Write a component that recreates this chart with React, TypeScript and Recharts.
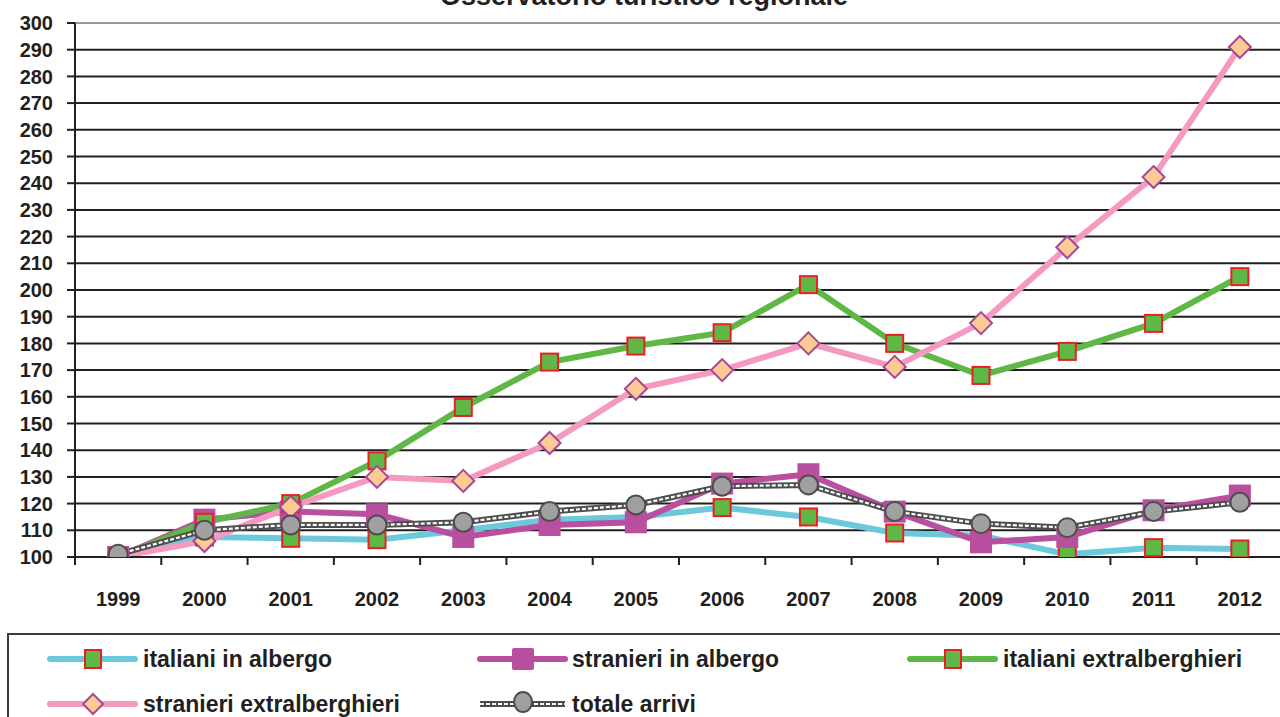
import React from 'react';
import { LineChart, Line, XAxis, YAxis, CartesianGrid, ReferenceLine } from 'recharts';

const years = ['1999', '2000', '2001', '2002', '2003', '2004', '2005', '2006', '2007', '2008', '2009', '2010', '2011', '2012'];
const italianiAlbergo = [100, 107.5, 107, 106.5, 110, 114, 115, 118.5, 115, 109, 108, 101, 103.5, 103];
const stranieriAlbergo = [100, 114, 117, 116, 107.5, 112, 113, 127.5, 131, 117, 105.5, 107.5, 117.5, 123];
const italianiExtra = [100, 113, 120, 136, 156, 173, 179, 184, 202, 180, 168, 177, 187.5, 205];
const stranieriExtra = [100, 106, 118.7, 130, 128.5, 142.7, 163, 170, 180, 171.2, 187.6, 216, 242.3, 291];
const totaleArrivi = [101, 110, 112, 112, 113, 117, 119.5, 126.5, 127, 117, 112.5, 111, 117, 120.5];
const yTicks = [100, 110, 120, 130, 140, 150, 160, 170, 180, 190, 200, 210, 220, 230, 240, 250, 260, 270, 280, 290, 300];
const seriesNames = ['italiani in albergo', 'stranieri in albergo', 'italiani extralberghieri', 'stranieri extralberghieri', 'totale arrivi'];
const title = 'Osservatorio turistico regionale';

const data = years.map((y, i) => ({
  year: y,
  ia: italianiAlbergo[i],
  sa: stranieriAlbergo[i],
  ie: italianiExtra[i],
  se: stranieriExtra[i],
  ta: totaleArrivi[i],
}));

const FONT = '"Liberation Sans", Arial, sans-serif';
const TEXT = '#231f20';
const CYAN = '#6cc9dc';
const MAGENTA = '#b84f9f';
const GREEN = '#5fb846';
const PINK = '#f49ac1';
const PEACH = '#fdca94';
const RED = '#ee1c25';
const DARK = '#4d4d4d';
const GRAY = '#a0a0a0';

const GreenSquare = (props: any) => {
  const { cx, cy, index } = props;
  if (cx == null || cy == null) return <g key={index} />;
  return <rect key={index} x={cx - 8.5} y={cy - 8.5} width={17} height={17} fill={GREEN} stroke={RED} strokeWidth={2} />;
};
const MagentaSquare = (props: any) => {
  const { cx, cy, index } = props;
  if (cx == null || cy == null) return <g key={index} />;
  return <rect key={index} x={cx - 11} y={cy - 11} width={22} height={22} fill={MAGENTA} />;
};
const Diamond = (props: any) => {
  const { cx, cy, index } = props;
  if (cx == null || cy == null) return <g key={index} />;
  const r = 11;
  return (
    <path key={index} d={`M${cx},${cy - r} L${cx + r},${cy} L${cx},${cy + r} L${cx - r},${cy} Z`} fill={PEACH} stroke="#a5479a" strokeWidth={2} />
  );
};
const Circle = (props: any) => {
  const { cx, cy, index } = props;
  if (cx == null || cy == null) return <g key={index} />;
  return <circle key={index} cx={cx} cy={cy} r={9.5} fill={GRAY} stroke={DARK} strokeWidth={2} />;
};

const XTick = (props: any) => {
  const { x, y, payload } = props;
  const half = payload && payload.offset ? payload.offset : 0;
  return (
    <g>
      <line x1={x - half} x2={x - half} y1={y} y2={y + 8} stroke={TEXT} strokeWidth={2} />
      <text x={x} y={y + 49} textAnchor="middle" fontFamily={FONT} fontWeight="bold" fontSize={20} fill={TEXT}>
        {payload.value}
      </text>
    </g>
  );
};

const LegendIcon = ({ kind, x, y }: { kind: number; x: number; y: number }) => {
  const x1 = x;
  const x2 = x + 85;
  const mx = x + 43;
  if (kind === 0 || kind === 2) {
    return (
      <g>
        <line x1={x1} x2={x2} y1={y} y2={y} stroke={kind === 0 ? CYAN : GREEN} strokeWidth={6} strokeLinecap="round" />
        <rect x={mx - 8} y={y - 9} width={16} height={18} fill={GREEN} stroke={RED} strokeWidth={2} />
      </g>
    );
  }
  if (kind === 1) {
    return (
      <g>
        <line x1={x1} x2={x2} y1={y} y2={y} stroke={MAGENTA} strokeWidth={6} strokeLinecap="round" />
        <rect x={mx - 11} y={y - 11} width={22} height={22} fill={MAGENTA} rx={2} />
      </g>
    );
  }
  if (kind === 3) {
    const r = 10;
    return (
      <g>
        <line x1={x1} x2={x2} y1={y} y2={y} stroke={PINK} strokeWidth={6} strokeLinecap="round" />
        <path d={`M${mx},${y - r} L${mx + r},${y} L${mx},${y + r} L${mx - r},${y} Z`} fill={PEACH} stroke="#a5479a" strokeWidth={2} />
      </g>
    );
  }
  return (
    <g>
      <line x1={x1} x2={x2} y1={y} y2={y} stroke={DARK} strokeWidth={6} />
      <line x1={x1} x2={x2} y1={y} y2={y} stroke="#ffffff" strokeWidth={2.2} strokeDasharray="4 2" />
      <ellipse cx={mx} cy={y - 2} rx={9} ry={10} fill={GRAY} stroke={DARK} strokeWidth={2} />
    </g>
  );
};

const legendPos = [
  { x: 50, y: 659, tx: 143 },
  { x: 480, y: 659, tx: 572 },
  { x: 910, y: 659, tx: 1003 },
  { x: 50, y: 704, tx: 143 },
  { x: 480, y: 704, tx: 572 },
];

export default function App() {
  return (
    <div style={{ position: 'absolute', left: 0, top: 0, width: 1280, height: 717, overflow: 'hidden', background: '#fff' }}>
      <div style={{ position: 'absolute', left: 0, top: 0 }}>
        <LineChart width={1290} height={620} data={data} margin={{ top: 23, right: 7, left: 0, bottom: 0 }}>
          <CartesianGrid horizontal={true} vertical={false} stroke={TEXT} strokeWidth={2} />
          <ReferenceLine y={300} stroke="#9a9a9a" strokeWidth={2} />
          <XAxis
            dataKey="year"
            scale="band"
            height={63}
            axisLine={{ stroke: TEXT, strokeWidth: 2 }}
            tickLine={false}
            tickSize={0}
            tickMargin={0}
            interval={0}
            tick={<XTick />}
          />
          <YAxis
            width={75}
            domain={[100, 300]}
            ticks={yTicks}
            interval={0}
            allowDataOverflow={true}
            axisLine={{ stroke: TEXT, strokeWidth: 2 }}
            tickLine={{ stroke: TEXT, strokeWidth: 2 }}
            tickSize={8}
            tickMargin={14}
            tick={{ fill: TEXT, fontFamily: FONT, fontWeight: 'bold', fontSize: 20 }}
          />
          <Line dataKey="ia" name={seriesNames[0]} stroke={CYAN} strokeWidth={6} dot={<GreenSquare />} isAnimationActive={false} />
          <Line dataKey="sa" name={seriesNames[1]} stroke={MAGENTA} strokeWidth={6} dot={<MagentaSquare />} isAnimationActive={false} />
          <Line dataKey="ie" name={seriesNames[2]} stroke={GREEN} strokeWidth={6} dot={<GreenSquare />} isAnimationActive={false} />
          <Line dataKey="se" name={seriesNames[3]} stroke={PINK} strokeWidth={6} dot={<Diamond />} isAnimationActive={false} />
          <Line dataKey="ta" name={seriesNames[4]} stroke={DARK} strokeWidth={6} dot={false} legendType="none" isAnimationActive={false} />
          <Line dataKey="ta" name="totale-overlay" stroke="#ffffff" strokeWidth={2.2} strokeDasharray="4 2" dot={<Circle />} legendType="none" isAnimationActive={false} />
        </LineChart>
      </div>
      <svg width={1280} height={717} style={{ position: 'absolute', left: 0, top: 0, pointerEvents: 'none' }}>
        <text x={644} y={5} textAnchor="middle" fontFamily={FONT} fontWeight="bold" fontSize={27} fill={TEXT}>
          {title}
        </text>
        <rect x={8} y={634} width={1300} height={120} fill="none" stroke="#3a3a3a" strokeWidth={2} />
        {seriesNames.map((n, i) => (
          <g key={n}>
            <LegendIcon kind={i} x={legendPos[i].x} y={legendPos[i].y} />
            <text x={legendPos[i].tx} y={legendPos[i].y + 8} fontFamily={FONT} fontWeight="bold" fontSize={23} fill={TEXT}>
              {n}
            </text>
          </g>
        ))}
      </svg>
    </div>
  );
}
